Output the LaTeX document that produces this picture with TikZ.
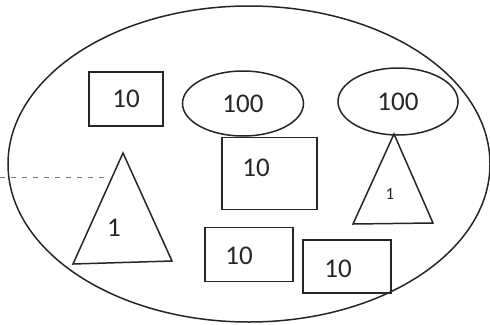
\documentclass[tikz,border=0pt]{standalone}
\usepackage{fontspec}
\setmainfont{Carlito}
\usetikzlibrary{shapes.geometric}
\begin{document}
\begin{tikzpicture}[x=1pt,y=-1pt,
  ln/.style={line width=1.5pt,draw=black!85},
  box/.style={ln,rectangle,inner sep=0pt},
  oval/.style={ln,ellipse,inner sep=0pt},
  big/.style={font=\fontsize{27}{30}\selectfont,text=black!85},
  small/.style={font=\fontsize{17}{19}\selectfont,text=black!85}]
\useasboundingbox (0,0) rectangle (490,324);
\fill[white] (0,0) rectangle (490,324);
% outer ellipse
\node[oval,minimum width=482pt,minimum height=316pt] (outer) at (249,164) {};
% boxes
\node[box,minimum width=74pt,minimum height=54pt,big] (b1) at (126,99) {10};
\node[box,minimum width=95pt,minimum height=72pt] (b2) at (269.5,173.5) {};
\node[big] (t2) at (256,168) {10};
\node[box,minimum width=88pt,minimum height=54pt] (b3) at (249,254.5) {};
\node[big] (t3) at (239,256) {10};
\node[box,minimum width=88pt,minimum height=53pt] (b4) at (347,266.5) {};
\node[big] (t4) at (338,269) {10};
% ellipses
\node[oval,minimum width=121pt,minimum height=65pt,big] (e1) at (243,103.5) {100};
\node[oval,minimum width=120pt,minimum height=67pt,big] (e2) at (398,101.5) {100};
% left triangle
\coordinate (la) at (123,153);
\coordinate (lb) at (73,264);
\coordinate (lc) at (172,261);
\draw[ln,line join=miter] (la) -- (lb) -- (lc) -- cycle;
\node[big] (l1) at (114,228) {1};
% right triangle
\coordinate (ra) at (394,134);
\coordinate (rb) at (353,224);
\coordinate (rc) at (433,223);
\draw[ln,line join=miter] (ra) -- (rb) -- (rc) -- cycle;
\node[small] (r1) at (390,194) {1};
% dashed line
\coordinate (d0) at (0,177);
\coordinate (d1) at (110,177);
\draw[black!55,line width=0.8pt,dash pattern=on 5pt off 6pt] (d0) -- (d1);
\end{tikzpicture}
\end{document}
